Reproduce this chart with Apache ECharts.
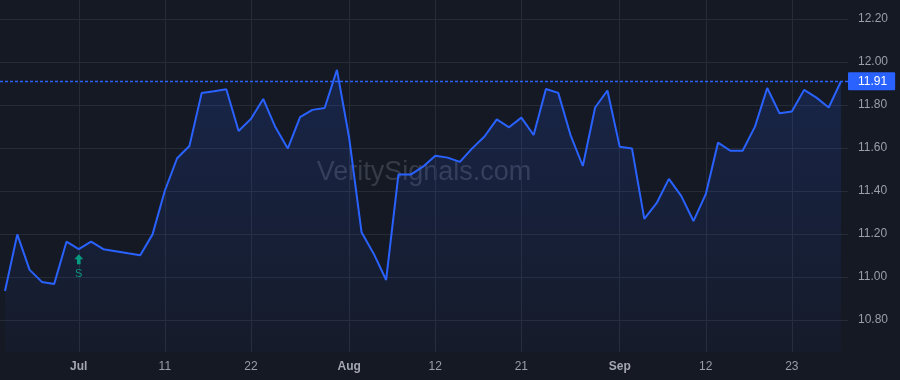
<!DOCTYPE html>
<html>
<head>
<meta charset="utf-8">
<script src="https://cdn.jsdelivr.net/npm/echarts@6/dist/echarts.min.js"></script>
<style>
html,body{margin:0;padding:0;background:#151924;}
#chart{width:900px;height:380px;}
</style>
</head>
<body>
<div id="chart"></div>
<script>
const dates = [
  '2024-06-21','2024-06-24','2024-06-25','2024-06-26','2024-06-27','2024-06-28',
  '2024-07-01','2024-07-02','2024-07-03','2024-07-05','2024-07-08','2024-07-09','2024-07-10','2024-07-11','2024-07-12',
  '2024-07-15','2024-07-16','2024-07-17','2024-07-18','2024-07-19','2024-07-22','2024-07-23','2024-07-24','2024-07-25',
  '2024-07-26','2024-07-29','2024-07-30','2024-07-31',
  '2024-08-01','2024-08-02','2024-08-05','2024-08-06','2024-08-07','2024-08-08','2024-08-09','2024-08-12','2024-08-13',
  '2024-08-14','2024-08-15','2024-08-16','2024-08-19','2024-08-20','2024-08-21','2024-08-22','2024-08-23','2024-08-26',
  '2024-08-27','2024-08-28','2024-08-29','2024-08-30',
  '2024-09-03','2024-09-04','2024-09-05','2024-09-06','2024-09-09','2024-09-10','2024-09-11','2024-09-12','2024-09-13',
  '2024-09-16','2024-09-17','2024-09-18','2024-09-19','2024-09-20','2024-09-23','2024-09-24','2024-09-25','2024-09-26',
  '2024-09-27'
];
const closes = [
  10.935, 11.198, 11.033, 10.977, 10.967, 11.164,
  11.129, 11.164, 11.129, 11.120, 11.110, 11.101, 11.198, 11.401, 11.552,
  11.609, 11.856, 11.864, 11.873, 11.679, 11.735, 11.828, 11.696, 11.597,
  11.743, 11.777, 11.786, 11.963,
  11.645, 11.208, 11.107, 10.986, 11.476, 11.476, 11.513, 11.564, 11.555,
  11.535, 11.598, 11.653, 11.733, 11.696, 11.741, 11.660, 11.874, 11.856,
  11.660, 11.516, 11.788, 11.867,
  11.606, 11.597, 11.270, 11.343, 11.456, 11.377, 11.260, 11.385, 11.625,
  11.587, 11.587, 11.699, 11.879, 11.761, 11.769, 11.870, 11.834, 11.788,
  11.91
];
const xTickDates = ['2024-07-01','2024-07-11','2024-07-22','2024-08-01','2024-08-12','2024-08-21','2024-09-03','2024-09-12','2024-09-23'];
const xTickLabels = ['Jul','11','22','Aug','12','21','Sep','12','23'];
const xTickIsMonth = [true,false,false,true,false,false,true,false,false];
const yTicks = [10.8, 11.0, 11.2, 11.4, 11.6, 11.8, 12.0, 12.2];
const signalDate = '2024-07-01';
const signalText = 'S';
const watermark = 'VeritySignals.com';

const xTickIdx = xTickDates.map(d => dates.indexOf(d));
const seriesData = closes.map((v, i) => [i, v]);
const sigIdx = dates.indexOf(signalDate);
const lastVal = closes[closes.length - 1];

const chart = echarts.init(document.getElementById('chart'), null, {renderer: 'canvas'});
const FONT = '"Liberation Sans", Arial, sans-serif';

chart.setOption({
  backgroundColor: '#151924',
  animation: false,
  textStyle: {fontFamily: FONT},
  graphic: [{
    type: 'text',
    x: 424,
    y: 173,
    z: 0,
    silent: true,
    style: {
      text: watermark,
      x: 0, y: 0,
      align: 'center',
      verticalAlign: 'middle',
      font: '27px ' + FONT,
      fill: 'rgba(140,146,164,0.28)'
    }
  }],
  grid: {left: 0, right: 52, top: 0, bottom: 28, containLabel: false},
  xAxis: {
    type: 'value',
    min: -0.407,
    max: 68.569,
    axisLine: {show: false},
    axisTick: {show: false, customValues: xTickIdx},
    splitLine: {show: true, lineStyle: {color: '#262b38', width: 1}},
    axisLabel: {
      customValues: xTickIdx,
      margin: 9,
      fontSize: 12,
      color: '#9a9ea8',
      formatter: function (v) {
        const k = xTickIdx.indexOf(Math.round(v));
        if (k < 0) return '';
        return xTickIsMonth[k] ? '{b|' + xTickLabels[k] + '}' : xTickLabels[k];
      },
      rich: {b: {fontWeight: 'bold', fontSize: 12, color: '#a4a7b0', fontFamily: FONT}}
    }
  },
  yAxis: {
    type: 'value',
    position: 'right',
    min: 10.651,
    max: 12.288,
    axisLine: {show: false},
    axisTick: {show: false, customValues: yTicks},
    splitLine: {show: true, lineStyle: {color: '#262b38', width: 1}},
    axisLabel: {
      customValues: yTicks,
      margin: 10,
      fontSize: 12,
      color: '#9a9ea8',
      formatter: v => v.toFixed(2)
    }
  },
  series: [{
    type: 'line',
    data: seriesData,
    showSymbol: false,
    symbol: 'none',
    z: 3,
    lineStyle: {color: '#2962ff', width: 2},
    areaStyle: {
      color: new echarts.graphic.LinearGradient(0, 0, 0, 1, [
        {offset: 0, color: 'rgba(41,98,255,0.24)'},
        {offset: 1, color: 'rgba(41,98,255,0.04)'}
      ])
    },
    markLine: {
      silent: true,
      symbol: ['none', 'none'],
      animation: false,
      lineStyle: {color: '#2962ff', type: [3, 2], width: 1.3, opacity: 1},
      emphasis: {disabled: true},
      label: {
        show: true,
        position: 'end',
        distance: 0,
        formatter: p => p.value.toFixed(2),
        backgroundColor: '#2962ff',
        color: '#ffffff',
        fontSize: 12,
        fontFamily: FONT,
        padding: [3, 8, 3, 10],
        borderRadius: 1
      },
      data: [{yAxis: lastVal}]
    },
    markPoint: {
      silent: true,
      animation: false,
      data: [{
        coord: [sigIdx, closes[sigIdx]],
        symbol: 'path://M5,0 L10,5 L7,5 L7,10 L3,10 L3,5 L0,5 Z',
        symbolSize: [9, 10],
        symbolOffset: [0, 10],
        itemStyle: {color: '#089981'},
        label: {
          show: true,
          formatter: signalText,
          position: 'bottom',
          distance: 4,
          color: '#089981',
          fontSize: 11,
          fontFamily: FONT
        }
      }]
    }
  }]
});
</script>
</body>
</html>
